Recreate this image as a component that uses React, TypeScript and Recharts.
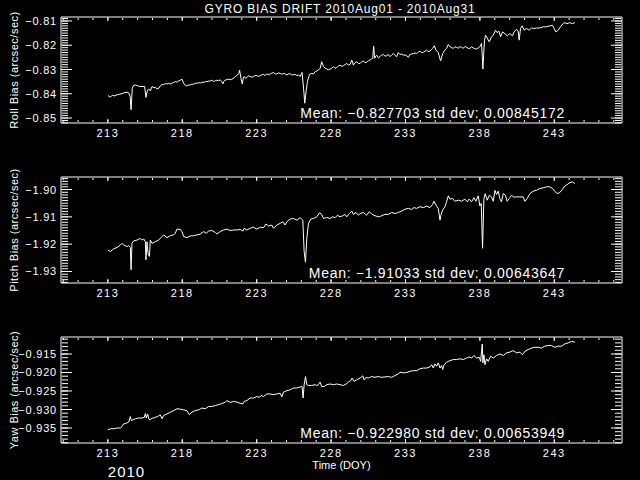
import React from "react";
import { LineChart, Line, XAxis, YAxis } from "recharts";

// ---- data (DOY 2010, arcsec/sec) ----

const rollDay = [
  213.0, 213.17, 213.3, 213.45, 213.62, 213.8, 213.95, 214.1, 214.28, 214.42, 214.5, 214.56, 214.64, 214.73, 214.85,
  215.0, 215.15, 215.3, 215.47, 215.56, 215.65, 215.74, 215.85, 215.97, 216.1, 216.19, 216.3, 216.41, 216.52, 216.64,
  216.75, 216.86, 216.97, 217.08, 217.2, 217.31, 217.42, 217.53, 217.65, 217.75, 217.86, 217.98, 218.06, 218.14, 218.31,
  218.42, 218.54, 218.65, 218.76, 218.87, 218.98, 219.1, 219.21, 219.32, 219.43, 219.55, 219.66, 219.77, 219.88, 219.99,
  220.1, 220.22, 220.33, 220.44, 220.55, 220.64, 220.73, 220.8, 220.89, 221.0, 221.11, 221.22, 221.33, 221.45, 221.56,
  221.71, 221.8, 221.85, 221.94, 222.03, 222.1, 222.16, 222.25, 222.34, 222.45, 222.56, 222.68, 222.79, 222.9, 223.01,
  223.12, 223.24, 223.35, 223.46, 223.57, 223.68, 223.8, 223.91, 224.02, 224.13, 224.24, 224.35, 224.47, 224.58, 224.69,
  224.8, 224.91, 225.03, 225.14, 225.25, 225.36, 225.47, 225.58, 225.7, 225.81, 225.92, 226.05, 226.17, 226.23, 226.32,
  226.41, 226.55, 226.7, 226.81, 226.93, 227.04, 227.15, 227.26, 227.37, 227.49, 227.6, 227.71, 227.82, 227.93, 228.05,
  228.16, 228.27, 228.38, 228.49, 228.6, 228.72, 228.83, 228.94, 229.05, 229.16, 229.28, 229.39, 229.5, 229.61, 229.72,
  229.83, 229.95, 230.06, 230.17, 230.28, 230.39, 230.5, 230.62, 230.71, 230.8, 230.86, 230.93, 231.0, 231.07, 231.18,
  231.29, 231.4, 231.51, 231.62, 231.74, 231.85, 231.96, 232.07, 232.18, 232.3, 232.41, 232.52, 232.63, 232.75, 232.86,
  232.97, 233.08, 233.19, 233.3, 233.42, 233.53, 233.64, 233.75, 233.86, 233.97, 234.09, 234.2, 234.31, 234.42, 234.53,
  234.64, 234.75, 234.82, 234.94, 235.05, 235.2, 235.36, 235.5, 235.65, 235.76, 235.88, 235.99, 236.1, 236.21, 236.32,
  236.43, 236.55, 236.66, 236.77, 236.88, 236.99, 237.11, 237.22, 237.33, 237.44, 237.55, 237.66, 237.78, 237.89, 238.0,
  238.11, 238.16, 238.2, 238.25, 238.31, 238.38, 238.49, 238.63, 238.78, 238.9, 239.05, 239.16, 239.28, 239.39, 239.52,
  239.68, 239.84, 240.01, 240.19, 240.3, 240.46, 240.57, 240.64, 240.73, 240.84, 240.98, 241.13, 241.31, 241.47, 241.62,
  241.8, 242.03, 242.25, 242.47, 242.7, 242.88, 242.99, 243.1, 243.26, 243.41, 243.59, 243.71, 243.86, 244.04, 244.22,
  244.38,
];
const rollBias = [
  -0.8407, -0.8414, -0.8406, -0.8409, -0.8404, -0.8402, -0.8399, -0.8396, -0.8393, -0.8398, -0.8412, -0.8466, -0.8377, -0.8366, -0.8364,
  -0.8367, -0.837, -0.837, -0.837, -0.8415, -0.8388, -0.838, -0.8388, -0.837, -0.8376, -0.8373, -0.838, -0.8378, -0.8368, -0.8361,
  -0.8363, -0.8358, -0.836, -0.8357, -0.836, -0.8356, -0.8353, -0.835, -0.8352, -0.8347, -0.8344, -0.834, -0.8352, -0.8362, -0.8368,
  -0.8364, -0.8364, -0.836, -0.8361, -0.8357, -0.8357, -0.8354, -0.8356, -0.8352, -0.8354, -0.835, -0.835, -0.8348, -0.8347, -0.8344,
  -0.835, -0.8346, -0.8344, -0.8346, -0.8343, -0.8348, -0.8359, -0.8349, -0.8343, -0.8342, -0.834, -0.8342, -0.834, -0.8336, -0.8329,
  -0.8323, -0.8316, -0.8302, -0.8336, -0.8359, -0.8335, -0.8329, -0.8336, -0.8333, -0.8326, -0.8329, -0.8332, -0.8329, -0.8325, -0.8325,
  -0.8329, -0.8325, -0.8322, -0.832, -0.8325, -0.8318, -0.8322, -0.8318, -0.8315, -0.8312, -0.8318, -0.8318, -0.8314, -0.8316, -0.832,
  -0.8316, -0.8318, -0.8323, -0.8318, -0.8318, -0.8322, -0.8322, -0.832, -0.8325, -0.8322, -0.8329, -0.8312, -0.8391, -0.8439, -0.8391,
  -0.835, -0.832, -0.8316, -0.8318, -0.8309, -0.8306, -0.8302, -0.8295, -0.8268, -0.8288, -0.8294, -0.8298, -0.8301, -0.8299, -0.8294,
  -0.8288, -0.8295, -0.8292, -0.8286, -0.8282, -0.8287, -0.8284, -0.828, -0.8275, -0.8281, -0.8279, -0.8261, -0.8282, -0.8272, -0.8268,
  -0.8275, -0.8275, -0.8268, -0.8265, -0.8272, -0.8271, -0.8264, -0.8261, -0.8257, -0.8254, -0.8204, -0.8254, -0.8245, -0.8241, -0.8252,
  -0.8247, -0.824, -0.8238, -0.8245, -0.8243, -0.8238, -0.8247, -0.824, -0.8234, -0.8242, -0.8247, -0.823, -0.8238, -0.8237, -0.8241,
  -0.824, -0.8243, -0.825, -0.8238, -0.8236, -0.8234, -0.8232, -0.8234, -0.8228, -0.8224, -0.8231, -0.8229, -0.8225, -0.822, -0.8226,
  -0.8224, -0.8217, -0.8213, -0.8202, -0.822, -0.823, -0.8265, -0.8234, -0.822, -0.8213, -0.8197, -0.8206, -0.821, -0.8213, -0.8206,
  -0.8209, -0.8212, -0.8206, -0.8208, -0.8213, -0.8205, -0.8209, -0.8213, -0.8213, -0.8206, -0.8211, -0.8214, -0.8216, -0.8211, -0.8206,
  -0.8193, -0.8247, -0.8298, -0.8241, -0.8179, -0.8159, -0.817, -0.8186, -0.8165, -0.8159, -0.8138, -0.8148, -0.8142, -0.8165, -0.8145,
  -0.8152, -0.8161, -0.8152, -0.8161, -0.8145, -0.8134, -0.8142, -0.8179, -0.8131, -0.812, -0.8138, -0.8131, -0.8138, -0.8129, -0.8131,
  -0.8129, -0.8129, -0.8124, -0.8124, -0.812, -0.8118, -0.8131, -0.8145, -0.8138, -0.8124, -0.8111, -0.8107, -0.8111, -0.8107, -0.8111,
  -0.8107,
];

const pitchDay = [
  212.99, 213.17, 213.39, 213.62, 213.84, 213.95, 214.06, 214.29, 214.4, 214.51, 214.56, 214.62, 214.73, 214.96, 215.18,
  215.29, 215.41, 215.52, 215.56, 215.63, 215.7, 215.79, 215.85, 215.97, 216.19, 216.41, 216.64, 216.75, 216.97, 217.2,
  217.42, 217.53, 217.64, 217.87, 217.98, 218.09, 218.31, 218.54, 218.76, 218.99, 219.21, 219.43, 219.61, 219.77, 219.99,
  220.22, 220.33, 220.55, 220.78, 221.0, 221.22, 221.45, 221.67, 221.89, 222.07, 222.16, 222.34, 222.56, 222.79, 223.01,
  223.24, 223.46, 223.62, 223.8, 224.02, 224.13, 224.35, 224.58, 224.76, 224.91, 225.03, 225.25, 225.47, 225.7, 225.92,
  226.1, 226.19, 226.28, 226.37, 226.48, 226.64, 226.82, 227.04, 227.22, 227.37, 227.49, 227.71, 227.93, 228.11, 228.27,
  228.43, 228.6, 228.78, 228.94, 229.05, 229.23, 229.39, 229.5, 229.68, 229.83, 229.95, 230.17, 230.39, 230.57, 230.73,
  230.95, 231.18, 231.4, 231.62, 231.85, 232.07, 232.3, 232.52, 232.74, 232.97, 233.19, 233.41, 233.57, 233.75, 233.97,
  234.2, 234.42, 234.64, 234.82, 234.91, 235.05, 235.2, 235.32, 235.38, 235.49, 235.65, 235.76, 235.88, 235.99, 236.17,
  236.32, 236.55, 236.77, 236.99, 237.15, 237.28, 237.44, 237.6, 237.73, 237.89, 238.0, 238.09, 238.13, 238.18, 238.22,
  238.27, 238.36, 238.49, 238.63, 238.78, 238.9, 239.01, 239.12, 239.23, 239.34, 239.45, 239.57, 239.72, 239.83, 239.97,
  240.13, 240.28, 240.46, 240.69, 240.91, 241.02, 241.18, 241.36, 241.58, 241.8, 242.03, 242.25, 242.47, 242.7, 242.88,
  243.03, 243.19, 243.37, 243.55, 243.7, 243.86, 244.04, 244.22, 244.38,
];
const pitchBias = [
  -1.9221, -1.9227, -1.9217, -1.9212, -1.9203, -1.9197, -1.9203, -1.9209, -1.9205, -1.9212, -1.9294, -1.9197, -1.9188, -1.9185, -1.9179,
  -1.9185, -1.9181, -1.9191, -1.9257, -1.9191, -1.9233, -1.9245, -1.9185, -1.9197, -1.9191, -1.9185, -1.9172, -1.9166, -1.9176, -1.9169,
  -1.9166, -1.916, -1.9145, -1.9146, -1.9154, -1.9172, -1.9176, -1.917, -1.9169, -1.9166, -1.9163, -1.9154, -1.916, -1.9152, -1.915,
  -1.9157, -1.9163, -1.9154, -1.9148, -1.9145, -1.915, -1.9148, -1.9148, -1.9146, -1.9152, -1.9142, -1.9148, -1.9142, -1.9138, -1.9145,
  -1.9138, -1.914, -1.9126, -1.9134, -1.913, -1.9142, -1.913, -1.9124, -1.9118, -1.913, -1.9118, -1.9108, -1.9106, -1.9112, -1.9103,
  -1.9112, -1.9227, -1.9266, -1.9178, -1.9124, -1.9108, -1.9106, -1.91, -1.9085, -1.9091, -1.9106, -1.9102, -1.9106, -1.91, -1.9103,
  -1.9094, -1.91, -1.9096, -1.9091, -1.91, -1.9088, -1.9079, -1.9091, -1.9084, -1.9094, -1.9088, -1.9084, -1.9094, -1.9081, -1.909,
  -1.9096, -1.91, -1.9096, -1.9091, -1.9091, -1.9084, -1.9088, -1.9084, -1.9079, -1.9072, -1.9069, -1.9073, -1.9066, -1.9069, -1.9063,
  -1.9066, -1.9061, -1.9066, -1.9055, -1.9043, -1.9057, -1.9069, -1.9112, -1.9094, -1.9075, -1.9063, -1.9045, -1.9023, -1.9035, -1.9033,
  -1.9043, -1.9039, -1.9043, -1.9035, -1.9045, -1.9035, -1.9045, -1.903, -1.9043, -1.9023, -1.906, -1.9051, -1.9124, -1.9215, -1.913,
  -1.9033, -1.9015, -1.9039, -1.9021, -1.9027, -1.9043, -1.9003, -1.9018, -1.9006, -1.9033, -1.9045, -1.9015, -1.9021, -1.9043, -1.9033,
  -1.9021, -1.9028, -1.9027, -1.9027, -1.9027, -1.9043, -1.9033, -1.9015, -1.9006, -1.9003, -1.8996, -1.8994, -1.899, -1.899, -1.8996,
  -1.9006, -1.9015, -1.9011, -1.8999, -1.8987, -1.8982, -1.8975, -1.8972, -1.8978,
];

const yawDay = [
  212.99, 213.17, 213.39, 213.62, 213.84, 213.95, 214.06, 214.24, 214.4, 214.51, 214.58, 214.69, 214.85, 215.07, 215.29,
  215.45, 215.52, 215.58, 215.67, 215.76, 215.85, 215.97, 216.08, 216.19, 216.35, 216.52, 216.64, 216.75, 216.97, 217.2,
  217.42, 217.64, 217.87, 218.09, 218.31, 218.47, 218.65, 218.87, 219.1, 219.32, 219.54, 219.77, 219.99, 220.22, 220.44,
  220.66, 220.89, 221.0, 221.22, 221.44, 221.67, 221.89, 222.07, 222.16, 222.34, 222.56, 222.79, 223.01, 223.19, 223.3,
  223.46, 223.68, 223.91, 224.13, 224.35, 224.58, 224.69, 224.8, 225.03, 225.25, 225.47, 225.7, 225.92, 226.05, 226.12,
  226.19, 226.28, 226.37, 226.48, 226.7, 226.93, 227.04, 227.15, 227.26, 227.37, 227.53, 227.71, 227.93, 228.16, 228.38,
  228.6, 228.83, 229.01, 229.16, 229.32, 229.41, 229.54, 229.72, 229.95, 230.13, 230.22, 230.35, 230.51, 230.73, 230.95,
  231.17, 231.4, 231.62, 231.85, 232.07, 232.3, 232.52, 232.63, 232.85, 233.08, 233.3, 233.53, 233.75, 233.97, 234.2,
  234.42, 234.64, 234.76, 234.87, 234.98, 235.09, 235.2, 235.32, 235.43, 235.5, 235.58, 235.76, 235.99, 236.21, 236.43,
  236.66, 236.88, 237.11, 237.28, 237.44, 237.6, 237.78, 237.96, 238.05, 238.11, 238.16, 238.2, 238.27, 238.34, 238.45,
  238.56, 238.72, 238.9, 239.12, 239.34, 239.57, 239.79, 240.01, 240.24, 240.46, 240.69, 240.86, 241.02, 241.24, 241.47,
  241.69, 241.92, 242.14, 242.36, 242.59, 242.81, 243.03, 243.26, 243.48, 243.7, 243.93, 244.15, 244.38,
];
const yawBias = [
  -0.9355, -0.9352, -0.9352, -0.935, -0.935, -0.9346, -0.9339, -0.9337, -0.9334, -0.9319, -0.933, -0.9328, -0.9325, -0.9323, -0.9323,
  -0.9321, -0.9311, -0.9323, -0.9312, -0.9326, -0.9328, -0.9323, -0.9323, -0.9321, -0.9319, -0.9314, -0.9325, -0.9316, -0.9312, -0.9307,
  -0.9303, -0.9298, -0.9299, -0.9301, -0.9303, -0.9314, -0.9307, -0.9303, -0.9301, -0.9296, -0.9298, -0.9292, -0.9292, -0.9289, -0.9287,
  -0.9284, -0.928, -0.9276, -0.9281, -0.9278, -0.928, -0.9283, -0.9285, -0.9278, -0.9276, -0.9269, -0.9269, -0.9265, -0.9267, -0.9262,
  -0.9265, -0.9258, -0.9258, -0.926, -0.9258, -0.9256, -0.9266, -0.9253, -0.9249, -0.9247, -0.9242, -0.9242, -0.9239, -0.9238, -0.9269,
  -0.9233, -0.9211, -0.9233, -0.9235, -0.9235, -0.9233, -0.9235, -0.9233, -0.9226, -0.9238, -0.9238, -0.9233, -0.9231, -0.9233, -0.9231,
  -0.9233, -0.9235, -0.9231, -0.9226, -0.9222, -0.9215, -0.9224, -0.922, -0.9215, -0.9209, -0.922, -0.9213, -0.9215, -0.9211, -0.9213,
  -0.9211, -0.9213, -0.9212, -0.9211, -0.9213, -0.9208, -0.9204, -0.9199, -0.9201, -0.92, -0.9197, -0.9195, -0.9195, -0.919, -0.9188,
  -0.9188, -0.9185, -0.9179, -0.9188, -0.9177, -0.9183, -0.9174, -0.9188, -0.9181, -0.9192, -0.9181, -0.9172, -0.9168, -0.9165, -0.9165,
  -0.9163, -0.9165, -0.9161, -0.9158, -0.9161, -0.9154, -0.9161, -0.9159, -0.917, -0.9143, -0.9123, -0.9174, -0.9152, -0.9179, -0.9163,
  -0.917, -0.9156, -0.9161, -0.9154, -0.915, -0.9154, -0.9147, -0.9145, -0.9141, -0.9147, -0.9145, -0.9152, -0.9143, -0.9138, -0.9134,
  -0.9132, -0.9132, -0.9134, -0.9129, -0.9127, -0.9127, -0.9132, -0.9129, -0.9129, -0.9123, -0.912, -0.9116, -0.9118,
];

const dayMajor = [213, 218, 223, 228, 233, 238, 243];
const dayDomain = [209.85, 247.55];

const rollMajor = [-0.85, -0.84, -0.83, -0.82, -0.81];
const pitchMajor = [-1.93, -1.92, -1.91, -1.9];
const yawMajor = [-0.935, -0.93, -0.925, -0.92, -0.915];

const FONT = "'Liberation Sans', Arial, sans-serif";
const WHITE = { stroke: "#fff" };
const minus = (s: string) => s.replace("-", "\u2212");
const blank = () => <g />;

function minorTicks(lo: number, hi: number, step: number) {
  const out: number[] = [];
  for (let k = Math.ceil(lo / step); k <= Math.floor(hi / step); k++) {
    out.push(Math.round(k * step * 1e6) / 1e6);
  }
  return out;
}

const dayTicks = minorTicks(dayDomain[0], dayDomain[1], 1);

function Panel(props: {
  days: number[];
  values: number[];
  yDomain: number[];
  yMajor: number[];
  digits: number;
}) {
  const { days, values, yDomain, yMajor, digits } = props;
  const data = days.map((d, i) => ({ day: d, v: values[i] }));
  const yTicks = minorTicks(yDomain[0], yDomain[1], 0.001);

  const yLabel = (p: any) => (
    <text x={p.x - 4} y={p.y + 4} textAnchor="end" fill="#fff" fontSize={11} fontFamily={FONT} letterSpacing={0.8}>
      {minus(p.payload.value.toFixed(digits))}
    </text>
  );
  const xLabel = (p: any) => (
    <text x={p.x} y={p.y + 14} textAnchor="middle" fill="#fff" fontSize={11} fontFamily={FONT} letterSpacing={1.5}>
      {p.payload.value}
    </text>
  );

  // inward tick marks: thin mirrored axes lying on the frame
  const xTickAxis = (id: string, side: "top" | "bottom", ticks: number[], len: number) => (
    <XAxis
      key={id}
      xAxisId={id}
      orientation={side}
      mirror
      height={1}
      dataKey="day"
      type="number"
      domain={dayDomain}
      allowDataOverflow
      ticks={ticks}
      interval={0}
      tickSize={len}
      tickMargin={0}
      tickLine={WHITE}
      axisLine={false}
      tick={blank}
    />
  );
  const yTickAxis = (id: string, side: "left" | "right", ticks: number[], len: number) => (
    <YAxis
      key={id}
      yAxisId={id}
      orientation={side}
      mirror
      width={1}
      type="number"
      domain={yDomain}
      allowDataOverflow
      ticks={ticks}
      interval={0}
      tickSize={len}
      tickMargin={0}
      tickLine={WHITE}
      axisLine={false}
      tick={blank}
    />
  );
  const hidden = (xa: string, ya: string) => (
    <Line
      key={xa + ya}
      xAxisId={xa}
      yAxisId={ya}
      dataKey="v"
      stroke="none"
      dot={false}
      activeDot={false}
      isAnimationActive={false}
    />
  );

  return (
    <LineChart width={640} height={160} data={data} margin={{ top: 0, right: 0, bottom: 7, left: 0 }}>
      {xTickAxis("bmin", "bottom", dayTicks, 2)}
      {xTickAxis("bmaj", "bottom", dayMajor, 4)}
      {xTickAxis("tmin", "top", dayTicks, 2)}
      {xTickAxis("tmaj", "top", dayMajor, 4)}
      {yTickAxis("lmin", "left", yTicks, 6)}
      {yTickAxis("lmaj", "left", yMajor, 11)}
      {yTickAxis("rmin", "right", yTicks, 6)}
      {yTickAxis("rmaj", "right", yMajor, 11)}
      <XAxis
        xAxisId="b"
        dataKey="day"
        type="number"
        domain={dayDomain}
        allowDataOverflow
        ticks={dayMajor}
        interval={0}
        height={30}
        tickSize={0}
        tickMargin={0}
        tickLine={false}
        axisLine={WHITE}
        tick={xLabel}
      />
      <XAxis
        xAxisId="t"
        orientation="top"
        dataKey="day"
        type="number"
        domain={dayDomain}
        allowDataOverflow
        height={17}
        tickLine={false}
        axisLine={WHITE}
        tick={false}
      />
      <YAxis
        yAxisId="l"
        type="number"
        domain={yDomain}
        allowDataOverflow
        ticks={yMajor}
        interval={0}
        width={61}
        tickSize={0}
        tickMargin={0}
        tickLine={false}
        axisLine={WHITE}
        tick={yLabel}
      />
      <YAxis
        yAxisId="r"
        orientation="right"
        type="number"
        domain={yDomain}
        allowDataOverflow
        width={18}
        tickLine={false}
        axisLine={WHITE}
        tick={false}
      />
      {hidden("bmin", "lmin")}
      {hidden("bmaj", "lmaj")}
      {hidden("tmin", "rmin")}
      {hidden("tmaj", "rmaj")}
      {hidden("t", "r")}
      <Line
        xAxisId="b"
        yAxisId="l"
        type="linear"
        dataKey="v"
        stroke="#fff"
        strokeWidth={1}
        dot={false}
        activeDot={false}
        isAnimationActive={false}
      />
    </LineChart>
  );
}

const panels = [
  { label: "Roll Bias (arcsec/sec)", mean: "Mean: \u22120.827703 std dev: 0.00845172", days: rollDay, values: rollBias, yDomain: [-0.85205, -0.80836], yMajor: rollMajor, digits: 2 },
  { label: "Pitch Bias (arcsec/sec)", mean: "Mean: \u22121.91033 std dev: 0.00643647", days: pitchDay, values: pitchBias, yDomain: [-1.93422, -1.89541], yMajor: pitchMajor, digits: 2 },
  { label: "Yaw Bias (arcsec/sec)", mean: "Mean: \u22120.922980 std dev: 0.00653949", days: yawDay, values: yawBias, yDomain: [-0.93905, -0.91041], yMajor: yawMajor, digits: 3 },
];

export default function App() {
  return (
    <div style={{ position: "relative", width: 640, height: 480, background: "#000", overflow: "hidden" }}>
      <style>{`body{margin:0;background:#000}`}</style>
      {panels.map((p, i) => (
        <div key={p.label} style={{ position: "absolute", left: 0, top: i * 160 }}>
          <Panel days={p.days} values={p.values} yDomain={p.yDomain} yMajor={p.yMajor} digits={p.digits} />
        </div>
      ))}
      <svg width={640} height={480} style={{ position: "absolute", left: 0, top: 0, pointerEvents: "none" }} fontFamily={FONT} fill="#fff">
        <text x={340} y={12.5} textAnchor="middle" fontSize={12} letterSpacing={0.8}>
          GYRO BIAS DRIFT 2010Aug01 - 2010Aug31
        </text>
        {panels.map((p, i) => (
          <g key={p.label}>
            <text transform={`translate(18,${70 + i * 160}) rotate(-90)`} textAnchor="middle" fontSize={11} letterSpacing={0.5}>
              {p.label}
            </text>
            <text x={565} y={117.5 + i * 160} textAnchor="end" fontSize={14} letterSpacing={0.7}>
              {p.mean}
            </text>
          </g>
        ))}
        <text x={341.5} y={469} textAnchor="middle" fontSize={11}>
          Time (DOY)
        </text>
        <text x={126.5} y={477} textAnchor="middle" fontSize={15} letterSpacing={1}>
          2010
        </text>
      </svg>
    </div>
  );
}
